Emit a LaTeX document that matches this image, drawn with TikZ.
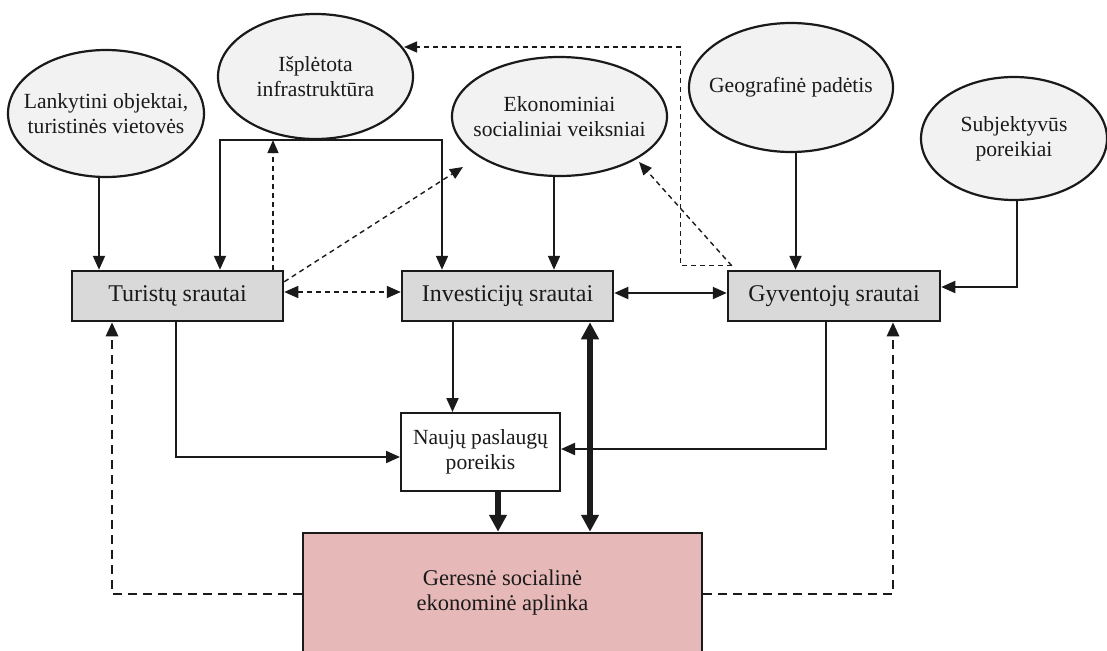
\documentclass[tikz,border=0pt]{standalone}
\usepackage{fontspec}
\setmainfont{Liberation Serif}
\usetikzlibrary{arrows.meta,shapes.geometric,calc}
\definecolor{ellfill}{HTML}{F2F2F2}
\definecolor{boxfill}{HTML}{D9D9D9}
\definecolor{pinkfill}{HTML}{E6B8B7}
\definecolor{ink}{HTML}{1A1A1A}
\begin{document}
\begin{tikzpicture}[x=1pt,y=-1pt,
  ell/.style={ellipse, draw=ink, line width=2.2pt, fill=ellfill, inner sep=-40pt, align=center,
    font=\fontsize{21.6}{25}\selectfont, text=ink},
  flowbox/.style={rectangle, draw=ink, line width=2.5pt, fill=boxfill, inner sep=0pt,
    minimum width=211pt, minimum height=50pt, font=\fontsize{24}{28}\selectfont, text=ink},
  arr/.style={line width=2pt, draw=ink, -{Triangle[length=14pt,width=12pt]}},
  dbl/.style={line width=2pt, draw=ink, {Triangle[length=14pt,width=12pt]}-{Triangle[length=14pt,width=12pt]}},
  darr/.style={line width=1.4pt, draw=ink, dash pattern=on 5pt off 4pt, -{Triangle[length=13pt,width=11pt]}},
  ddbl/.style={line width=1.6pt, draw=ink, dash pattern=on 5pt off 4pt, {Triangle[length=14pt,width=12pt]}-{Triangle[length=14pt,width=12pt]}},
  thickdash/.style={line width=2.6pt, draw=ink, dash pattern=on 9pt off 6pt, -{Triangle[length=14pt,width=12pt]}},
  boldarr/.style={line width=6pt, draw=ink, -{Triangle[length=17pt,width=17pt]}},
  bolddbl/.style={line width=6pt, draw=ink, {Triangle[length=17pt,width=17pt]}-{Triangle[length=17pt,width=17pt]}},
]
\useasboundingbox[fill=white] (0,0) rectangle (1107,650);

% ellipses
\node[ell, minimum width=196pt, minimum height=127pt] (L) at (106,113.5) {Lankytini objektai,\\turistinės vietovės};
\node[ell, minimum width=195pt, minimum height=125pt] (I) at (315.5,76.5) {Išplėtota\\infrastruktūra};
\node[ell, minimum width=215pt, minimum height=119pt] (E) at (559.5,116.5) {Ekonominiai\\socialiniai veiksniai};
\node[ell, minimum width=204pt, minimum height=129pt] (G) at (791,87.5) {Geografinė padėtis};
\node[ell, minimum width=186pt, minimum height=123pt] (S) at (1014,138.5) {Subjektyvūs\\poreikiai};

% boxes
\node[flowbox] (T) at (177.5,296) {Turistų srautai};
\node[flowbox] (V) at (507.5,296) {Investicijų srautai};
\node[flowbox, minimum width=212pt] (Y) at (834,296) {Gyventojų srautai};
\node[rectangle, draw=ink, line width=2pt, fill=white, inner sep=0pt, minimum width=159pt, minimum height=78pt,
  align=center, font=\fontsize{21.6}{25}\selectfont, text=ink] (N) at (480.5,452) {Naujų paslaugų\\poreikis};
\node[rectangle, draw=ink, line width=2.5pt, fill=pinkfill, inner sep=0pt, minimum width=399pt, minimum height=119pt,
  align=center, font=\fontsize{22.5}{25}\selectfont, text=ink] (R) at (502.5,592.5) {Geresnė socialinė\\ekonominė aplinka};

% free ends
\coordinate (e1) at (463,167);
\coordinate (e2) at (639,162);
\coordinate (i1) at (404,47);
\coordinate (g1) at ([xshift=5pt,yshift=4pt]Y.north west);

% solid connectors
\draw[arr] ([xshift=-7pt]L.south) -- ([xshift=-7pt]L.south |- T.north);
\draw[arr] (I.south) -| ([xshift=42.5pt]T.north);
\draw[arr] (I.south) -| ([xshift=-65.5pt]V.north);
\draw[arr] ([xshift=-5.5pt]E.south) -- ([xshift=-5.5pt]E.south |- V.north);
\draw[arr] ([xshift=4.5pt]G.south) -- ([xshift=4.5pt]G.south |- Y.north);
\draw[arr] ([xshift=3pt]S.south) |- ([yshift=9pt]Y.east);
\draw[dbl] ([yshift=3pt]V.east) -- ([yshift=3pt]Y.west);
\draw[arr] ([xshift=-1.5pt]T.south) |- ([yshift=-5pt]N.west);
\draw[arr] ([xshift=-55pt]V.south) -- ([xshift=-55pt]V.south |- N.north);
\draw[arr] ([xshift=-8pt]Y.south) |- ([yshift=3pt]N.east);
\draw[boldarr] ([xshift=17.5pt]N.south) -- ([xshift=17.5pt]N.south |- R.north);
\draw[bolddbl] ([xshift=82.5pt]V.south) -- ([xshift=82.5pt]V.south |- R.north);

% dashed connectors
\draw[darr] ([xshift=95.5pt]T.north) -- ([xshift=95.5pt]T.north |- I.south);
\draw[darr] ([yshift=-12pt]T.north east) -- (e1);
\draw[ddbl] ([yshift=4pt]T.east) -- ([yshift=4pt]V.west);
\draw[darr] (g1) -- ++(-51,0) |- (i1);
\draw[darr] (g1) -- (e2);
\draw[thickdash] ([yshift=-1.5pt]R.west) -| ([xshift=-65.5pt]T.south);
\draw[thickdash] ([yshift=-1.5pt]R.east) -| ([xshift=59pt]Y.south);
\end{tikzpicture}
\end{document}
